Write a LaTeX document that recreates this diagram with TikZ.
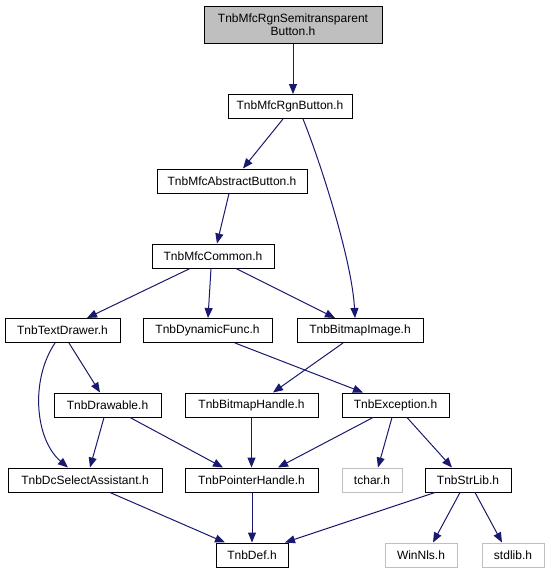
\documentclass[tikz,border=0pt]{standalone}
\usepackage{fontspec}
\setmainfont{Liberation Sans}
\usetikzlibrary{arrows.meta}
\definecolor{edgeblue}{HTML}{191970}
\definecolor{greyline}{HTML}{BFBFBF}
\begin{document}
\begin{tikzpicture}[x=1pt,y=-1pt,
  filebox/.style={draw=black,line width=1pt,fill=white,inner sep=0pt,minimum height=24pt,font=\fontsize{12}{13.5}\selectfont},
  extbox/.style={filebox,draw=greyline},
  rootbox/.style={filebox,fill=greyline,align=center},
  dep/.style={draw=edgeblue,line width=1pt,-{Triangle[length=10pt,width=8pt]}}]
\useasboundingbox[fill=white] (0,0) rectangle (551,573);
\node[rootbox,minimum width=178pt,minimum height=37pt] (semi) at (293,24.5) {TnbMfcRgnSemitransparent\\Button.h};
\node[filebox,minimum width=124pt] (rgn) at (290,106.5) {TnbMfcRgnButton.h};
\node[filebox,minimum width=150pt] (abs) at (232,181) {TnbMfcAbstractButton.h};
\node[filebox,minimum width=122pt] (com) at (213,256) {TnbMfcCommon.h};
\node[filebox,minimum width=115pt] (td) at (62.5,330.5) {TnbTextDrawer.h};
\node[filebox,minimum width=129pt] (df) at (207.5,330.5) {TnbDynamicFunc.h};
\node[filebox,minimum width=126pt] (bimg) at (360,330.5) {TnbBitmapImage.h};
\node[filebox,minimum width=107pt] (drw) at (107.5,405) {TnbDrawable.h};
\node[filebox,minimum width=133pt] (bh) at (251.5,405) {TnbBitmapHandle.h};
\node[filebox,minimum width=107pt] (exc) at (395.5,405) {TnbException.h};
\node[filebox,minimum width=154pt] (dcs) at (85,480) {TnbDcSelectAssistant.h};
\node[filebox,minimum width=133pt] (ph) at (251.5,480) {TnbPointerHandle.h};
\node[extbox,minimum width=60pt] (tchar) at (372,480) {tchar.h};
\node[filebox,minimum width=86pt] (str) at (468,480) {TnbStrLib.h};
\node[filebox,minimum width=72pt] (def) at (252,555) {TnbDef.h};
\node[extbox,minimum width=72pt] (winnls) at (421,555) {WinNls.h};
\node[extbox,minimum width=62pt] (stdlib) at (513,555) {stdlib.h};

\draw[dep] (semi.south) -- ([xshift=3pt]rgn.north);
\draw[dep] ([xshift=-7pt]rgn.south) -- ([xshift=11pt]abs.north);
\draw[dep] ([xshift=13pt]rgn.south) .. controls +(17,42) and +(-3,-58) .. ([xshift=-5pt]bimg.north);
\draw[dep] ([xshift=-3pt]abs.south) -- ([xshift=4pt]com.north);
\draw[dep] ([xshift=-23pt]com.south) -- ([xshift=24.5pt]td.north);
\draw[dep] ([xshift=-2pt]com.south) -- ([xshift=0.5pt]df.north);
\draw[dep] ([xshift=23pt]com.south) -- ([xshift=-25pt]bimg.north);
\draw[dep] ([xshift=6.5pt]td.south) -- ([xshift=-7.5pt]drw.north);
\draw[dep] ([xshift=-7.5pt]td.south) .. controls +(-25,37) and +(-33,-28) .. ([xshift=-17pt]dcs.north);
\draw[dep] ([xshift=27.5pt]df.south) -- ([xshift=-32.5pt]exc.north);
\draw[dep] ([xshift=-17pt]bimg.south) -- ([xshift=21.5pt]bh.north);
\draw[dep] ([xshift=-3.5pt]drw.south) -- ([xshift=5pt]dcs.north);
\draw[dep] ([xshift=22.5pt]drw.south) -- ([xshift=-28.5pt]ph.north);
\draw[dep] (bh.south) -- (ph.north);
\draw[dep] ([xshift=-22.5pt]exc.south) -- ([xshift=26.5pt]ph.north);
\draw[dep] ([xshift=-3.5pt]exc.south) -- ([xshift=6pt]tchar.north);
\draw[dep] ([xshift=11.5pt]exc.south) -- ([xshift=-16pt]str.north);
\draw[dep] ([xshift=25pt]dcs.south) -- ([xshift=-27pt]def.north);
\draw[dep] ([xshift=0.5pt]ph.south) -- (def.north);
\draw[dep] ([xshift=-33pt]str.south) -- ([xshift=33pt]def.north);
\draw[dep] ([xshift=-8pt]str.south) -- ([xshift=12pt]winnls.north);
\draw[dep] ([xshift=7pt]str.south) -- ([xshift=-11pt]stdlib.north);
\end{tikzpicture}
\end{document}
